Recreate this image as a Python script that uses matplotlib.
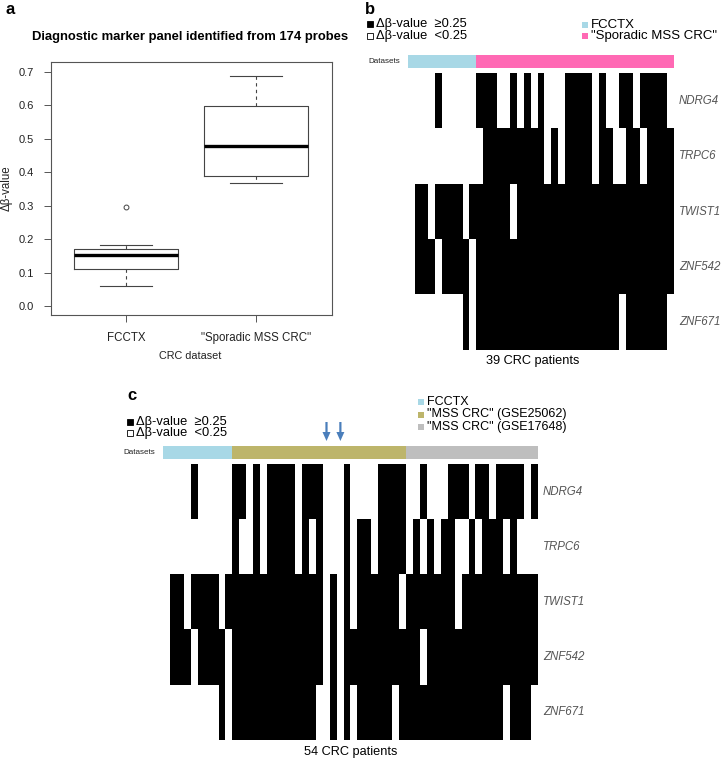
import numpy as np
import matplotlib
matplotlib.use("Agg")
import matplotlib.pyplot as plt
from matplotlib.colors import ListedColormap
from matplotlib.patches import Rectangle, FancyArrow

plt.rcParams['font.family'] = ['Liberation Sans', 'DejaVu Sans']

# ---------------- data ----------------
# Panel a: boxplot summary statistics (delta beta-values)
box_labels = ['FCCTX', '"Sporadic MSS CRC"']
box_med = [0.152, 0.479]
box_q1 = [0.111, 0.388]
box_q3 = [0.170, 0.598]
box_lo = [0.060, 0.366]
box_hi = [0.182, 0.686]
box_fliers = [[0.297], []]
y_ticks = [0.0, 0.1, 0.2, 0.3, 0.4, 0.5, 0.6, 0.7]

genes = ['NDRG4', 'TRPC6', 'TWIST1', 'ZNF542', 'ZNF671']

# Panel b: 39 patients (1 = delta beta >= 0.25)
b_groups = ['FCCTX', '"Sporadic MSS CRC"']
b_group_sizes = [10, 29]
b_group_colors = ['#a8d8e6', '#ff69b4']
b_NDRG4 = "000010000011100101010001111010011011110"
b_TRPC6 = "000000000001111111110101111011001101111"
b_TWIST1 = "011011110111111011111111111111111111111"
b_ZNF542 = "011101111011111111111111111111111111111"
b_ZNF671 = "000000001011111111111111111111101111110"

# Panel c: 54 patients
c_groups = ['FCCTX', '"MSS CRC" (GSE25062)', '"MSS CRC" (GSE17648)']
c_group_sizes = [10, 25, 19]
c_group_colors = ['#a8d8e6', '#bdb56b', '#bebebe']
c_NDRG4 = "000010000011010111101110001000011110010001110110111101"
c_TRPC6 = "000000000010010111101010001011011110101011001011101000"
c_TWIST1 = "011011110111111111111110101011111101111111011111111111"
c_ZNF542 = "011101111011111111111110101111111111101111111111111111"
c_ZNF671 = "000000001011111111111100101011111011111111111111101110"
c_arrow_patients = [23, 25]

# ---------------- layout ----------------
W, H = 721, 760
fig = plt.figure(figsize=(W / 100, H / 100), dpi=100)


def ax_px(x0, y0, x1, y1, **kw):
    return fig.add_axes([x0 / W, 1 - y1 / H, (x1 - x0) / W, (y1 - y0) / H], **kw)


ov = ax_px(0, 0, W, H)
ov.set_xlim(0, W)
ov.set_ylim(H, 0)
ov.axis('off')

TXT = '#222222'

# ---------------- panel a ----------------
ov.text(5, 10, 'a', fontsize=12, fontweight='bold', va='center', ha='left')
ov.text(190, 37, 'Diagnostic marker panel identified from 174 probes',
        fontsize=9.4, fontweight='bold', ha='center', va='center')
ax = ax_px(50.7, 61.7, 331.7, 315)
stats = []
for i in range(2):
    stats.append(dict(med=box_med[i], q1=box_q1[i], q3=box_q3[i],
                      whislo=box_lo[i], whishi=box_hi[i],
                      fliers=box_fliers[i], label=box_labels[i]))
ec = '#444444'
ax.bxp(stats, positions=[1, 2], widths=0.8,
       boxprops=dict(color=ec, lw=0.8),
       medianprops=dict(color='black', lw=2.4, solid_capstyle='butt'),
       whiskerprops=dict(color=ec, lw=0.8, linestyle=(0, (3, 3))),
       capprops=dict(color=ec, lw=0.8),
       flierprops=dict(marker='o', markersize=3.5, markerfacecolor='none',
                       markeredgecolor=ec, markeredgewidth=0.7))
ax.set_xlim(0.42, 2.58)
ax.set_ylim(-0.027, 0.730)
ax.set_yticks(y_ticks)
ax.set_yticklabels([f'{v:.1f}' for v in y_ticks])
for s in ax.spines.values():
    s.set_color('#555555')
    s.set_linewidth(0.8)
ax.tick_params(axis='y', length=5, width=0.7, colors='#555555', labelcolor=TXT,
               labelsize=8, pad=7)
ax.tick_params(axis='x', length=5, width=0.7, colors='#555555', labelcolor=TXT,
               labelsize=8.3, pad=7)
ov.text(7, 188, 'Δβ-value', rotation=90, fontsize=8.3, color=TXT,
        ha='center', va='center')
ov.text(190, 356, 'CRC dataset', fontsize=7.8, color=TXT, ha='center', va='center')


# ---------------- heatmap helper ----------------
def draw_heat(rows, sizes, colors, x0, x1, cb_y0, cb_y1, hm_y0, hm_y1, label_x):
    n = len(rows[0])
    cax = ax_px(x0, cb_y0, x1, cb_y1)
    grp = np.repeat(np.arange(len(sizes)), sizes)[None, :]
    cax.imshow(grp, cmap=ListedColormap(colors), aspect='auto',
               interpolation='nearest', extent=(0, n, 1, 0),
               vmin=0, vmax=len(sizes) - 1)
    cax.axis('off')
    hax = ax_px(x0, hm_y0, x1, hm_y1)
    mat = np.array([[int(ch) for ch in r] for r in rows])
    hax.imshow(mat, cmap=ListedColormap(['white', 'black']), aspect='auto',
               interpolation='nearest', extent=(0, n, len(rows), 0),
               vmin=0, vmax=1)
    hax.axis('off')
    for i, g in enumerate(genes):
        hax.text(n + (label_x - x1) / ((x1 - x0) / n), i + 0.5, g,
                 fontsize=8.3, style='italic', color='#555555',
                 ha='left', va='center')
    ov.text(x0 - 8, (cb_y0 + cb_y1) / 2, 'Datasets', fontsize=5.8,
            color=TXT, ha='right', va='center')
    return cax, hax


def delta_legend(x, y1, y2, fs):
    ov.add_patch(Rectangle((x, y1 - 3), 6, 6, facecolor='black',
                           edgecolor='black', lw=0.6))
    ov.add_patch(Rectangle((x, y2 - 3), 6, 6, facecolor='white',
                           edgecolor='black', lw=0.6))
    ov.text(x + 9, y1, 'Δβ-value  ≥0.25', fontsize=fs, ha='left', va='center')
    ov.text(x + 9, y2, 'Δβ-value  <0.25', fontsize=fs, ha='left', va='center')


def group_legend(x, ys, labels, colors, fs):
    for yy, lab, col in zip(ys, labels, colors):
        ov.add_patch(Rectangle((x, yy - 3), 6, 6, facecolor=col,
                               edgecolor='none'))
        ov.text(x + 9, yy, lab, fontsize=fs, ha='left', va='center')


# ---------------- panel b ----------------
ov.text(365, 10, 'b', fontsize=12, fontweight='bold', va='center', ha='left')
delta_legend(366.5, 24, 35.5, 9.3)
group_legend(582, [24.5, 36], b_groups, b_group_colors, 9.5)
draw_heat([b_NDRG4, b_TRPC6, b_TWIST1, b_ZNF542, b_ZNF671], b_group_sizes,
          b_group_colors, 408.3, 674, 55, 68.3, 73.3, 350, 679)
ov.text(533, 361, '39 CRC patients', fontsize=9.2, ha='center', va='center')

# ---------------- panel c ----------------
ov.text(127, 395, 'c', fontsize=12, fontweight='bold', va='center', ha='left')
delta_legend(126.7, 421.5, 433, 9.3)
group_legend(418, [402, 414.5, 427], c_groups, c_group_colors, 9.0)
cax_c, hax_c = draw_heat([c_NDRG4, c_TRPC6, c_TWIST1, c_ZNF542, c_ZNF671],
                         c_group_sizes, c_group_colors, 163.3, 538.3,
                         446, 459.5, 464, 740, 543)
ov.text(351, 752, '54 CRC patients', fontsize=9.2, ha='center', va='center')

# arrows marking two patients
colw = (538.3 - 163.3) / len(c_NDRG4)
for p in c_arrow_patients:
    xc = 163.3 + (p + 0.5) * colw
    ov.add_patch(FancyArrow(xc, 422, 0, 19, width=2.2, head_width=8,
                            head_length=9, length_includes_head=True,
                            color='#4a7ebb', lw=0))

fig.savefig('out.png', dpi=100)
